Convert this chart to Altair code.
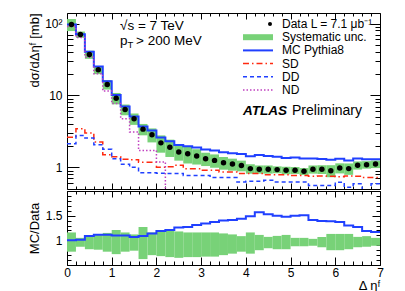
import altair as alt
import pandas as pd

# ---------------- data ----------------
EDGES = [0.0, 0.2, 0.4, 0.6, 0.8, 1.0, 1.2, 1.4, 1.6, 1.8, 2.0, 2.2, 2.4, 2.6,
         2.8, 3.0, 3.2, 3.4, 3.6, 3.8, 4.0, 4.2, 4.4, 4.6, 4.8, 5.0, 5.2, 5.4,
         5.6, 5.8, 6.0, 6.2, 6.4, 6.6, 6.8, 7.0]

DATA = [96.9, 70.3, 37.1, 22.7, 14.2, 9.17, 6.39, 4.75, 3.40, 2.85,
        2.19, 1.91, 1.63, 1.55, 1.44, 1.32, 1.25, 1.16, 1.11, 1.06,
        0.96, 0.94, 0.94, 0.93, 0.91, 0.91, 0.88, 0.94, 0.94, 0.90,
        0.98, 0.96, 1.07, 1.09, 1.11]
SYS_REL = [0.19, 0.10, 0.13, 0.13, 0.15, 0.18, 0.17, 0.18, 0.18, 0.22,
           0.27, 0.27, 0.24, 0.27, 0.24, 0.21, 0.21, 0.20, 0.19, 0.17,
           0.15, 0.13, 0.13, 0.11, 0.12, 0.11, 0.11, 0.13, 0.14, 0.19,
           0.16, 0.18, 0.13, 0.12, 0.12]
MC = [96.9, 71.0, 40.4, 25.3, 15.8, 10.1, 7.03, 5.08, 3.71, 3.25,
      2.61, 2.31, 2.05, 1.97, 1.89, 1.77, 1.71, 1.62, 1.57, 1.53,
      1.43, 1.48, 1.44, 1.40, 1.35, 1.37, 1.33, 1.33, 1.31, 1.28,
      1.32, 1.25, 1.33, 1.30, 1.30]
SD = [2.63, 3.45, 3.0, 2.25, 1.5, 1.4, 1.3, 1.28, 1.18, 1.18,
      1.0, 1.02, 1.07, 0.96, 0.96, 0.91, 0.91, 0.86, 0.86, 0.82,
      0.82, 0.82, 0.79, 0.79, 0.79, 0.77, 0.77, 0.75, 0.76, 0.75,
      0.74, 0.76, 0.75, 0.72, 0.72]
DD = [2.13, 2.78, 2.55, 2.07, 1.78, 1.32, 1.1, 1.0, 0.84, 0.84,
      0.83, 0.82, 0.82, 0.77, 0.77, 0.77, 0.72, 0.72, 0.72, 0.625,
      0.64, 0.64, 0.66, 0.625, 0.625, 0.625, 0.625, 0.56, 0.56, 0.56,
      0.62, 0.53, 0.59, 0.45, 0.59]
ND = [91.0, 64.0, 34.0, 20.0, 11.5, 7.7, 4.75, 3.1, 1.72, 1.72,
      1.19, 0, 0, 0, 0, 0, 0, 0, 0, 0,
      0, 0, 0, 0, 0, 0, 0, 0, 0, 0,
      0, 0, 0, 0, 0]
RATIO_MC = [1.00, 1.01, 1.09, 1.115, 1.115, 1.10, 1.10, 1.07, 1.09, 1.14,
            1.19, 1.21, 1.26, 1.27, 1.31, 1.34, 1.37, 1.40, 1.41, 1.44,
            1.49, 1.57, 1.53, 1.50, 1.48, 1.50, 1.51, 1.41, 1.39, 1.385,
            1.37, 1.30, 1.27, 1.19, 1.17]
RATIO_SYS_HI = [1.16, 1.05, 1.085, 1.11, 1.15, 1.21, 1.16, 1.12, 1.27, 1.16,
                1.19, 1.19, 1.18, 1.16, 1.16, 1.16, 1.16, 1.14, 1.12, 1.085,
                1.16, 1.11, 1.07, 1.09, 1.11, 1.05, 1.05, 1.03, 1.07, 1.13,
                1.13, 1.13, 1.07, 1.085, 1.05]
RATIO_SYS_LO = [0.77, 0.87, 0.82, 0.81, 0.77, 0.72, 0.77, 0.79, 0.62, 0.70,
                0.68, 0.66, 0.645, 0.66, 0.66, 0.67, 0.67, 0.70, 0.73, 0.77,
                0.73, 0.80, 0.84, 0.82, 0.82, 0.88, 0.88, 0.89, 0.86, 0.80,
                0.80, 0.82, 0.86, 0.87, 0.89]

LEGEND_LABELS = ["Data L = 7.1 \u03bcb\u207b\u00b9", "Systematic unc.", "MC Pythia8",
                 "SD", "DD", "ND"]

# ---------------- styling ----------------
FONT = "Liberation Sans"
GREEN = "#78d278"
BLUE = "#2040ff"
RED = "#ff2a10"
MAGENTA = "#c040c0"
W, H_TOP, H_BOT = 313, 176, 74

lo = EDGES[:-1]
hi = EDGES[1:]
bins = pd.DataFrame({
    "lo": lo, "hi": hi, "c": [(a + b) / 2 for a, b in zip(lo, hi)],
    "data": DATA,
    "slo": [d * (1 - s) for d, s in zip(DATA, SYS_REL)],
    "shi": [d * (1 + s) for d, s in zip(DATA, SYS_REL)],
    "rlo": RATIO_SYS_LO, "rhi": RATIO_SYS_HI,
})


def step_df(vals, floor=None):
    v = list(vals) + [vals[-1]]
    if floor is not None:  # empty bins are drawn at the bottom of the frame
        v = [x if x > 0 else floor for x in v]
    return pd.DataFrame({"x": EDGES, "v": v})


def ax(orient, values, size, labels=False, **kw):
    return alt.Axis(orient=orient, values=values, tickSize=size, offset=-size,
                    domain=False, grid=False, labels=labels, ticks=True,
                    tickColor="black", tickWidth=1, labelColor="black",
                    labelFont=FONT, labelFontSize=12, **kw)


X_MAJOR = [0, 1, 2, 3, 4, 5, 6, 7]
X_MINOR = [e for e in EDGES if abs(e - round(e)) > 1e-9]
Y_LOG_MAJOR = [1, 10, 100]
Y_LOG_MINOR = [0.6, 0.7, 0.8, 0.9, 2, 3, 4, 5, 6, 7, 8, 9, 20, 30, 40, 50, 60, 70, 80, 90]
R_MAJOR = [0.5, 1.0, 1.5, 2.0]
R_MINOR = [0.6, 0.7, 0.8, 0.9, 1.1, 1.2, 1.3, 1.4, 1.6, 1.7, 1.8, 1.9]

xs_top = alt.Scale(domain=[0, 7], nice=False, zero=False)
ys_top = alt.Scale(type="log", domain=[0.5, 140], nice=False)
xs_bot = alt.Scale(domain=[0, 7], nice=False, zero=False)
ys_bot = alt.Scale(domain=[0.5, 2.0], nice=False, zero=False)

# ---------------- top panel ----------------
band = alt.Chart(bins).mark_rect(color=GREEN, clip=True).encode(
    x=alt.X("lo:Q", scale=xs_top, axis=ax("bottom", X_MAJOR, 6, title=None)),
    x2="hi",
    y=alt.Y("slo:Q", scale=ys_top, axis=ax(
        "left", Y_LOG_MAJOR, 12, labels=True,
        labelExpr="datum.value >= 100 ? '10\u00b2' : (datum.value >= 10 ? '10' : '1')",
        labelPadding=5, title="d\u03c3/d\u0394\u03b7\u1da0 [mb]", titleAnchor="end",
        titleFont=FONT, titleFontSize=13, titleFontWeight="normal", titleColor="black",
        titlePadding=3, minExtent=35, maxExtent=35)),
    y2="shi",
)


def step_line(vals, color, width, xaxis, yaxis, dash=None, floor=None, xs=xs_top, ys=ys_top):
    mk = dict(interpolate="step-after", color=color, strokeWidth=width, clip=True)
    if dash is not None:
        mk["strokeDash"] = dash
    return alt.Chart(step_df(vals, floor)).mark_line(**mk).encode(
        x=alt.X("x:Q", scale=xs, axis=xaxis),
        y=alt.Y("v:Q", scale=ys, axis=yaxis),
    )


mc_line = step_line(MC, BLUE, 2, ax("bottom", X_MINOR, 3, title=None),
                    ax("left", Y_LOG_MINOR, 6, title=None))
sd_line = step_line(SD, RED, 1.5, ax("top", X_MAJOR, 6, title=None),
                    ax("right", Y_LOG_MAJOR, 10, title=None), dash=[6, 3, 1.5, 3])
dd_line = step_line(DD, BLUE, 1.5, ax("top", X_MINOR, 3, title=None),
                    ax("right", Y_LOG_MINOR, 5, title=None), dash=[4, 3])
nd_line = step_line(ND, MAGENTA, 1.5, None, None, dash=[1.5, 2], floor=0.01)

points = alt.Chart(bins).mark_circle(size=30, color="black", opacity=1).encode(
    x=alt.X("c:Q", scale=xs_top, axis=None),
    y=alt.Y("data:Q", scale=ys_top, axis=None),
)

one = pd.DataFrame({"a": [0]})


def label(text, x, y, size=13, **kw):
    return alt.Chart(one).mark_text(text=text, font=FONT, fontSize=size, align="left",
                                    baseline="middle", color="black", **kw).encode(
        x=alt.value(x), y=alt.value(y))


ann = [
    label("\u221as = 7 TeV", 53, 13, 13.5),
    label("p", 53, 28, 13.5),
    label("T", 60.5, 32, 9.5),
    label("> 200 MeV", 69, 28, 13.5),
    label("ATLAS", 176, 98, 13.5, fontWeight="bold", fontStyle="italic"),
    label("Preliminary", 225, 98, 14),
]

LEG_Y = [11 + 13.2 * i for i in range(len(LEGEND_LABELS))]
leg_df = pd.DataFrame({"label": LEGEND_LABELS, "ly": LEG_Y})
leg_text = alt.Chart(leg_df).mark_text(font=FONT, fontSize=12, align="left",
                                       baseline="middle", color="black").encode(
    x=alt.value(215), y=alt.Y("ly:Q", scale=None, axis=None), text="label:N")
leg_dot = alt.Chart(one).mark_circle(size=16, color="black", opacity=1).encode(
    x=alt.value(203), y=alt.value(LEG_Y[0]))
leg_box = alt.Chart(one).mark_rect(color=GREEN).encode(
    x=alt.value(176), x2=alt.value(206), y=alt.value(LEG_Y[1] - 3), y2=alt.value(LEG_Y[1] + 3))


def leg_rule(i, color, dash=None, width=2):
    mk = dict(color=color, strokeWidth=width)
    if dash is not None:
        mk["strokeDash"] = dash
    return alt.Chart(one).mark_rule(**mk).encode(
        x=alt.value(176), x2=alt.value(206), y=alt.value(LEG_Y[i]))


legend = [leg_text, leg_dot, leg_box,
          leg_rule(2, BLUE, width=2),
          leg_rule(3, RED, [6, 3, 1.5, 3], 1.5),
          leg_rule(4, BLUE, [4, 3], 1.5),
          leg_rule(5, MAGENTA, [1.5, 2], 1.5)]

top = alt.layer(band, mc_line, sd_line, dd_line, nd_line, points, *ann, *legend).resolve_axis(
    x="independent", y="independent").properties(width=W, height=H_TOP)

# ---------------- bottom panel ----------------
band_r = alt.Chart(bins).mark_rect(color=GREEN, clip=True).encode(
    x=alt.X("lo:Q", scale=xs_bot, axis=ax(
        "bottom", X_MAJOR, 8, labels=True, labelPadding=2, labelFlush=False,
        title="\u0394 \u03b7\u1da0", titleAnchor="end", titleFont=FONT, titleFontSize=13,
        titleFontWeight="normal", titleColor="black", titlePadding=1)),
    x2="hi",
    y=alt.Y("rlo:Q", scale=ys_bot, axis=ax(
        "left", R_MAJOR, 8, labels=True,
        labelExpr="datum.value == 1 ? '1' : (datum.value == 1.5 ? '1.5' : '')",
        labelPadding=5, title="MC/Data", titleFont=FONT, titleFontSize=13,
        titleFontWeight="normal", titleColor="black", titlePadding=3,
        minExtent=31, maxExtent=31)),
    y2="rhi",
)
ratio_line = step_line(RATIO_MC, BLUE, 2, ax("bottom", X_MINOR, 4, title=None),
                       ax("left", R_MINOR, 4, title=None), xs=xs_bot, ys=ys_bot)
ratio_top = alt.Chart(bins).mark_point(opacity=0).encode(
    x=alt.X("c:Q", scale=xs_bot, axis=ax("top", X_MAJOR, 6, title=None)),
    y=alt.Y("rhi:Q", scale=ys_bot, axis=ax("right", R_MAJOR, 8, title=None)),
)
ratio_top2 = alt.Chart(bins).mark_point(opacity=0).encode(
    x=alt.X("c:Q", scale=xs_bot, axis=ax("top", X_MINOR, 3, title=None)),
    y=alt.Y("rlo:Q", scale=ys_bot, axis=ax("right", R_MINOR, 4, title=None)),
)

bottom = alt.layer(band_r, ratio_line, ratio_top, ratio_top2).resolve_axis(
    x="independent", y="independent").properties(width=W, height=H_BOT)

chart = alt.vconcat(top, bottom, spacing=0).properties(
    padding={"left": 19, "top": 4, "right": 2, "bottom": 0}
).configure_view(stroke="black", strokeWidth=1).configure_axis(grid=False)

chart.save("out.html", embed_options={"renderer": "svg", "actions": False})
